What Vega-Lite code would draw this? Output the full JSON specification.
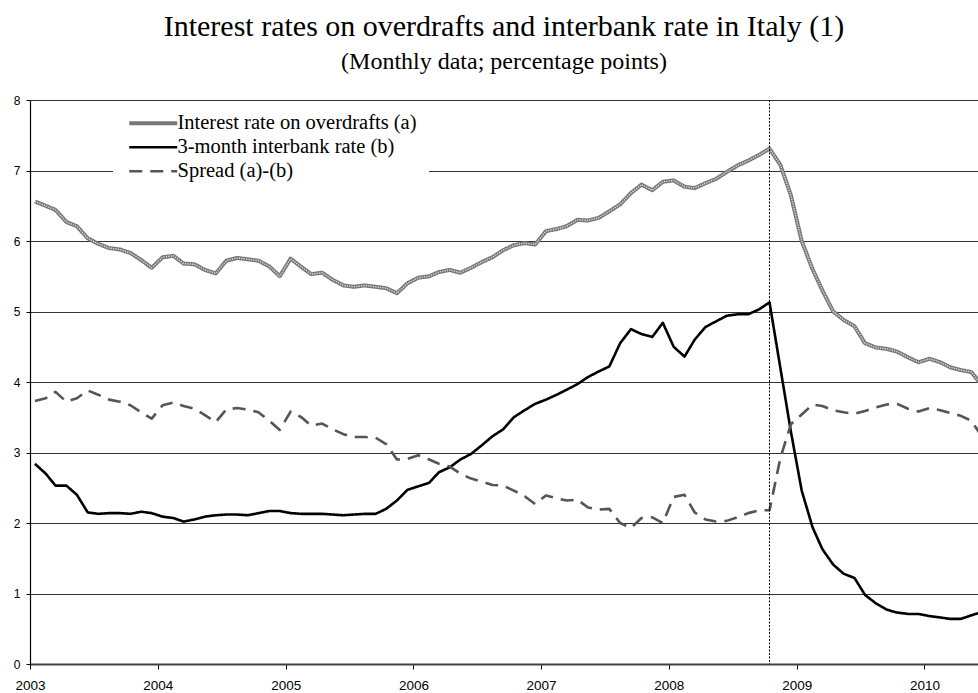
{
  "$schema": "https://vega.github.io/schema/vega-lite/v6.json",
  "width": 948,
  "height": 564,
  "autosize": {"type": "none"},
  "padding": {"left": 30, "top": 100, "right": 0, "bottom": 29},
  "background": "white",
  "config": {"view": {"stroke": null}, "font": "Liberation Sans"},
  "title": {
    "text": "Interest rates on overdrafts and interbank rate in Italy (1)",
    "subtitle": "(Monthly data; percentage points)",
    "font": "Liberation Serif",
    "fontSize": 30,
    "fontWeight": "normal",
    "color": "#000000",
    "subtitleFont": "Liberation Serif",
    "subtitleFontSize": 24,
    "subtitleColor": "#000000",
    "subtitlePadding": 8,
    "anchor": "middle",
    "offset": 20
  },
  "datasets": {
    "m": [
      {"d": "2003-01-15", "a": 6.56, "b": 2.84, "s": 3.73},
      {"d": "2003-02-15", "a": 6.50, "b": 2.70, "s": 3.77},
      {"d": "2003-03-15", "a": 6.44, "b": 2.53, "s": 3.86},
      {"d": "2003-04-15", "a": 6.27, "b": 2.53, "s": 3.72},
      {"d": "2003-05-15", "a": 6.21, "b": 2.40, "s": 3.77},
      {"d": "2003-06-15", "a": 6.04, "b": 2.15, "s": 3.88},
      {"d": "2003-07-15", "a": 5.96, "b": 2.13, "s": 3.82},
      {"d": "2003-08-15", "a": 5.90, "b": 2.14, "s": 3.75},
      {"d": "2003-09-15", "a": 5.88, "b": 2.14, "s": 3.72},
      {"d": "2003-10-15", "a": 5.83, "b": 2.13, "s": 3.67},
      {"d": "2003-11-15", "a": 5.73, "b": 2.16, "s": 3.57},
      {"d": "2003-12-15", "a": 5.62, "b": 2.14, "s": 3.48},
      {"d": "2004-01-15", "a": 5.77, "b": 2.09, "s": 3.67},
      {"d": "2004-02-15", "a": 5.79, "b": 2.07, "s": 3.71},
      {"d": "2004-03-15", "a": 5.68, "b": 2.02, "s": 3.66},
      {"d": "2004-04-15", "a": 5.67, "b": 2.05, "s": 3.62},
      {"d": "2004-05-15", "a": 5.59, "b": 2.09, "s": 3.53},
      {"d": "2004-06-15", "a": 5.54, "b": 2.11, "s": 3.43},
      {"d": "2004-07-15", "a": 5.72, "b": 2.12, "s": 3.61},
      {"d": "2004-08-15", "a": 5.76, "b": 2.12, "s": 3.63},
      {"d": "2004-09-15", "a": 5.74, "b": 2.11, "s": 3.61},
      {"d": "2004-10-15", "a": 5.72, "b": 2.14, "s": 3.57},
      {"d": "2004-11-15", "a": 5.64, "b": 2.17, "s": 3.45},
      {"d": "2004-12-15", "a": 5.50, "b": 2.17, "s": 3.32},
      {"d": "2005-01-15", "a": 5.75, "b": 2.14, "s": 3.58},
      {"d": "2005-02-15", "a": 5.63, "b": 2.13, "s": 3.50},
      {"d": "2005-03-15", "a": 5.53, "b": 2.13, "s": 3.38},
      {"d": "2005-04-15", "a": 5.55, "b": 2.13, "s": 3.41},
      {"d": "2005-05-15", "a": 5.45, "b": 2.12, "s": 3.33},
      {"d": "2005-06-15", "a": 5.37, "b": 2.11, "s": 3.26},
      {"d": "2005-07-15", "a": 5.35, "b": 2.12, "s": 3.22},
      {"d": "2005-08-15", "a": 5.37, "b": 2.13, "s": 3.22},
      {"d": "2005-09-15", "a": 5.35, "b": 2.13, "s": 3.21},
      {"d": "2005-10-15", "a": 5.33, "b": 2.20, "s": 3.12},
      {"d": "2005-11-15", "a": 5.26, "b": 2.32, "s": 2.90},
      {"d": "2005-12-15", "a": 5.40, "b": 2.47, "s": 2.91},
      {"d": "2006-01-15", "a": 5.48, "b": 2.52, "s": 2.96},
      {"d": "2006-02-15", "a": 5.50, "b": 2.57, "s": 2.90},
      {"d": "2006-03-15", "a": 5.56, "b": 2.72, "s": 2.84},
      {"d": "2006-04-15", "a": 5.59, "b": 2.79, "s": 2.80},
      {"d": "2006-05-15", "a": 5.55, "b": 2.90, "s": 2.70},
      {"d": "2006-06-15", "a": 5.62, "b": 2.98, "s": 2.63},
      {"d": "2006-07-15", "a": 5.70, "b": 3.10, "s": 2.59},
      {"d": "2006-08-15", "a": 5.77, "b": 3.23, "s": 2.54},
      {"d": "2006-09-15", "a": 5.87, "b": 3.33, "s": 2.53},
      {"d": "2006-10-15", "a": 5.94, "b": 3.50, "s": 2.46},
      {"d": "2006-11-15", "a": 5.97, "b": 3.60, "s": 2.38},
      {"d": "2006-12-15", "a": 5.95, "b": 3.69, "s": 2.27},
      {"d": "2007-01-15", "a": 6.14, "b": 3.75, "s": 2.39},
      {"d": "2007-02-15", "a": 6.17, "b": 3.82, "s": 2.35},
      {"d": "2007-03-15", "a": 6.21, "b": 3.89, "s": 2.32},
      {"d": "2007-04-15", "a": 6.30, "b": 3.97, "s": 2.33},
      {"d": "2007-05-15", "a": 6.29, "b": 4.07, "s": 2.22},
      {"d": "2007-06-15", "a": 6.33, "b": 4.15, "s": 2.19},
      {"d": "2007-07-15", "a": 6.42, "b": 4.22, "s": 2.20},
      {"d": "2007-08-15", "a": 6.52, "b": 4.55, "s": 2.00},
      {"d": "2007-09-15", "a": 6.68, "b": 4.75, "s": 1.93},
      {"d": "2007-10-15", "a": 6.80, "b": 4.68, "s": 2.07},
      {"d": "2007-11-15", "a": 6.72, "b": 4.64, "s": 2.08},
      {"d": "2007-12-15", "a": 6.84, "b": 4.84, "s": 2.00},
      {"d": "2008-01-15", "a": 6.86, "b": 4.50, "s": 2.37},
      {"d": "2008-02-15", "a": 6.77, "b": 4.36, "s": 2.40},
      {"d": "2008-03-15", "a": 6.75, "b": 4.60, "s": 2.15},
      {"d": "2008-04-15", "a": 6.82, "b": 4.78, "s": 2.05},
      {"d": "2008-05-15", "a": 6.88, "b": 4.86, "s": 2.02},
      {"d": "2008-06-15", "a": 6.98, "b": 4.94, "s": 2.03},
      {"d": "2008-07-15", "a": 7.07, "b": 4.96, "s": 2.08},
      {"d": "2008-08-15", "a": 7.14, "b": 4.96, "s": 2.14},
      {"d": "2008-09-15", "a": 7.22, "b": 5.03, "s": 2.18},
      {"d": "2008-10-15", "a": 7.31, "b": 5.13, "s": 2.18},
      {"d": "2008-11-15", "a": 7.08, "b": 4.20, "s": 2.92},
      {"d": "2008-12-15", "a": 6.65, "b": 3.30, "s": 3.40},
      {"d": "2009-01-15", "a": 6.00, "b": 2.46, "s": 3.54},
      {"d": "2009-02-15", "a": 5.60, "b": 1.94, "s": 3.68},
      {"d": "2009-03-15", "a": 5.30, "b": 1.63, "s": 3.66},
      {"d": "2009-04-15", "a": 5.00, "b": 1.41, "s": 3.60},
      {"d": "2009-05-15", "a": 4.88, "b": 1.28, "s": 3.57},
      {"d": "2009-06-15", "a": 4.79, "b": 1.22, "s": 3.55},
      {"d": "2009-07-15", "a": 4.55, "b": 0.98, "s": 3.59},
      {"d": "2009-08-15", "a": 4.49, "b": 0.86, "s": 3.64},
      {"d": "2009-09-15", "a": 4.47, "b": 0.77, "s": 3.68},
      {"d": "2009-10-15", "a": 4.43, "b": 0.73, "s": 3.69},
      {"d": "2009-11-15", "a": 4.35, "b": 0.71, "s": 3.62},
      {"d": "2009-12-15", "a": 4.28, "b": 0.71, "s": 3.58},
      {"d": "2010-01-15", "a": 4.33, "b": 0.68, "s": 3.63},
      {"d": "2010-02-15", "a": 4.28, "b": 0.66, "s": 3.60},
      {"d": "2010-03-15", "a": 4.21, "b": 0.64, "s": 3.56},
      {"d": "2010-04-15", "a": 4.17, "b": 0.64, "s": 3.52},
      {"d": "2010-05-15", "a": 4.14, "b": 0.69, "s": 3.45},
      {"d": "2010-06-15", "a": 3.95, "b": 0.74, "s": 3.22}
    ]
  },
  "layer": [
    {
      "data": {"name": "m"},
      "transform": [{"fold": ["a", "b", "s"], "as": ["k", "v"]}],
      "mark": {"type": "line", "clip": true, "strokeCap": "butt", "strokeJoin": "round"},
      "encoding": {
        "x": {
          "field": "d",
          "type": "temporal",
          "title": null,
          "scale": {
            "type": "utc",
            "domain": [
              {"year": 2003, "month": 1, "date": 1, "utc": true},
              {"year": 2010, "month": 6, "date": 3, "utc": true}
            ]
          },
          "axis": {
            "title": null,
            "values": [
              {"year": 2003, "month": 1, "date": 1, "utc": true},
              {"year": 2004, "month": 1, "date": 1, "utc": true},
              {"year": 2005, "month": 1, "date": 1, "utc": true},
              {"year": 2006, "month": 1, "date": 1, "utc": true},
              {"year": 2007, "month": 1, "date": 1, "utc": true},
              {"year": 2008, "month": 1, "date": 1, "utc": true},
              {"year": 2009, "month": 1, "date": 1, "utc": true},
              {"year": 2010, "month": 1, "date": 1, "utc": true}
            ],
            "format": "%Y",
            "formatType": "utc",
            "grid": false,
            "domainColor": "#404040",
            "domainWidth": 2,
            "tickColor": "#000000",
            "tickSize": 5,
            "tickWidth": 1,
            "labelFont": "Liberation Sans",
            "labelFontSize": 13.5,
            "labelColor": "#000000",
            "labelPadding": 9,
            "labelFlush": false,
            "labelOverlap": false
          }
        },
        "y": {
          "field": "v",
          "type": "quantitative",
          "title": null,
          "scale": {"domain": [0, 8], "nice": false},
          "axis": {
            "title": null,
            "values": [0, 1, 2, 3, 4, 5, 6, 7, 8],
            "format": "d",
            "grid": true,
            "gridColor": "#333333",
            "gridWidth": 1,
            "domainColor": "#000000",
            "domainWidth": 1.2,
            "tickColor": "#000000",
            "tickSize": 4,
            "labelFont": "Liberation Sans",
            "labelFontSize": 12,
            "labelColor": "#000000",
            "labelPadding": 6
          }
        },
        "color": {
          "field": "k",
          "type": "nominal",
          "scale": {"domain": ["a", "b", "s"], "range": ["#777777", "#000000", "#555555"]},
          "legend": {
            "title": null,
            "orient": "none",
            "legendX": 83,
            "legendY": 1,
            "fillColor": "#ffffff",
            "padding": 12,
            "symbolType": "M-1,0H7",
            "symbolSize": 144,
            "labelOffset": 32,
            "labelFont": "Liberation Serif",
            "labelFontSize": 20.5,
            "labelColor": "#000000",
            "rowPadding": 3,
            "labelLimit": 400,
            "labelExpr": "datum.value == 'a' ? 'Interest rate on overdrafts (a)' : datum.value == 'b' ? '3-month interbank rate (b)' : 'Spread (a)-(b)'"
          }
        },
        "strokeDash": {
          "field": "k",
          "type": "nominal",
          "scale": {"domain": ["a", "b", "s"], "range": [[1, 0], [1, 0], [13, 8]]},
          "legend": {
            "title": null,
            "orient": "none",
            "legendX": 83,
            "legendY": 1,
            "fillColor": "#ffffff",
            "padding": 12,
            "symbolType": "M-1,0H7",
            "symbolSize": 144,
            "labelOffset": 32,
            "labelFont": "Liberation Serif",
            "labelFontSize": 20.5,
            "labelColor": "#000000",
            "rowPadding": 3,
            "labelLimit": 400,
            "labelExpr": "datum.value == 'a' ? 'Interest rate on overdrafts (a)' : datum.value == 'b' ? '3-month interbank rate (b)' : 'Spread (a)-(b)'"
          }
        },
        "strokeWidth": {
          "field": "k",
          "type": "nominal",
          "scale": {"type": "ordinal", "domain": ["a", "b", "s"], "range": [4, 2.6, 2.6]},
          "legend": {
            "title": null,
            "orient": "none",
            "legendX": 83,
            "legendY": 1,
            "fillColor": "#ffffff",
            "padding": 12,
            "symbolType": "M-1,0H7",
            "symbolSize": 144,
            "labelOffset": 32,
            "labelFont": "Liberation Serif",
            "labelFontSize": 20.5,
            "labelColor": "#000000",
            "rowPadding": 3,
            "labelLimit": 400,
            "labelExpr": "datum.value == 'a' ? 'Interest rate on overdrafts (a)' : datum.value == 'b' ? '3-month interbank rate (b)' : 'Spread (a)-(b)'"
          }
        }
      }
    },
    {
      "data": {"name": "m"},
      "mark": {"type": "line", "clip": true, "color": "#eeeeee", "strokeWidth": 1.4, "strokeDash": [1.2, 1.2], "opacity": 0.9},
      "encoding": {
        "x": {"field": "d", "type": "temporal", "title": null},
        "y": {"field": "a", "type": "quantitative", "title": null}
      }
    },
    {
      "data": {"values": [{"d": "2008-10-15"}]},
      "mark": {"type": "rule", "color": "#000000", "strokeWidth": 1, "strokeDash": [2, 1.5]},
      "encoding": {
        "x": {"field": "d", "type": "temporal", "title": null}
      }
    }
  ]
}
